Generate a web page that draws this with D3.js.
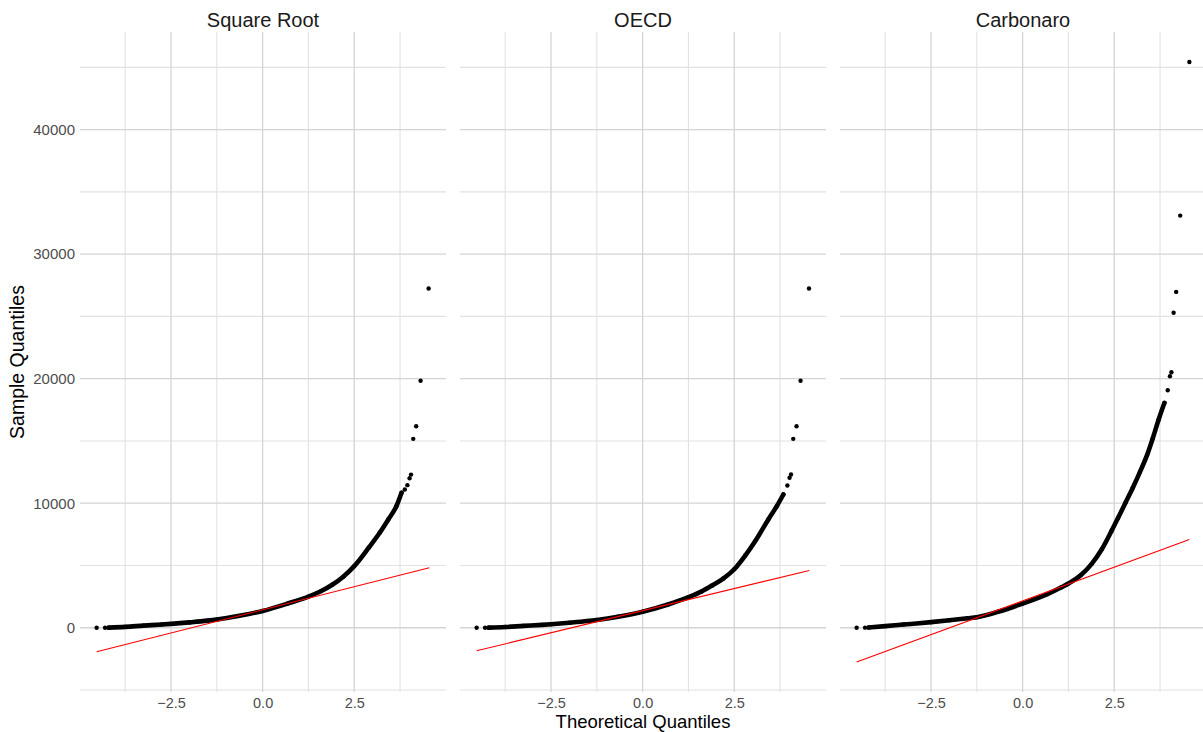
<!DOCTYPE html>
<html>
<head>
<meta charset="utf-8">
<script src="https://cdn.jsdelivr.net/npm/d3@7"></script>
<style>
  body { margin: 0; background: #ffffff; }
  svg { display: block; font-family: "Liberation Sans", Arial, sans-serif; }
</style>
</head>
<body>
<svg id="chart" width="1203" height="732"></svg>
<script>
// Facet titles
const panelNames = ["Square Root", "OECD", "Carbonaro"];

// Axis breaks
const xTickValues = [-2.5, 0, 2.5];
const xMinorValues = [-3.75, -1.25, 1.25, 3.75];
const yTickValues = [0, 10000, 20000, 30000, 40000];
const yMinorValues = [-5000, 5000, 15000, 25000, 35000, 45000];

// Sample quantiles vs theoretical quantiles: dense body of each distribution
const sqrtBand = [
  [-4.20, 10], [-3.75, 70], [-3.25, 170], [-2.75, 260], [-2.5, 310], [-2.0, 430],
  [-1.5, 570], [-1.25, 660], [-0.674, 935], [0, 1350], [0.674, 1935], [1.25, 2500],
  [1.6, 2950], [1.9, 3450], [2.2, 4100], [2.5, 4950], [2.9, 6450], [3.2, 7650],
  [3.43, 8700], [3.65, 9760], [3.79, 10840]
];
const oecdBand = [
  [-4.20, 10], [-3.75, 60], [-3.25, 150], [-2.75, 230], [-2.5, 280], [-2.0, 400],
  [-1.5, 540], [-1.25, 630], [-0.674, 890], [0, 1290], [0.674, 1850], [1.25, 2450],
  [1.6, 2900], [1.9, 3400], [2.2, 3950], [2.5, 4700], [2.8, 5800], [3.07, 6950],
  [3.43, 8690], [3.66, 9760], [3.84, 10700]
];
const carbBand = [
  [-4.20, 20], [-3.75, 130], [-3.25, 260], [-2.75, 380], [-2.5, 450], [-2.0, 600],
  [-1.5, 760], [-1.25, 850], [-0.674, 1280], [0, 1940], [0.674, 2700], [1.06, 3250],
  [1.25, 3550], [1.6, 4250], [1.89, 5150], [2.16, 6300], [2.43, 7800], [2.6, 8800],
  [2.8, 10000], [3.0, 11200], [3.2, 12500], [3.4, 13900], [3.55, 15200],
  [3.71, 16700], [3.87, 18060]
];

// Isolated extreme observations
const sqrtTail = [
  [-4.53, 0], [-4.30, 5], [3.88, 11100], [3.95, 11450], [4.01, 12000], [4.05, 12300],
  [4.11, 15170], [4.19, 16180], [4.31, 19830], [4.53, 27240]
];
const oecdTail = [
  [-4.53, 0], [-4.30, 5], [3.95, 11420], [4.01, 12040], [4.05, 12305],
  [4.11, 15170], [4.20, 16180], [4.31, 19830], [4.54, 27240]
];
const carbTail = [
  [-4.53, 0], [-4.30, 10], [3.96, 19070], [4.02, 20200], [4.06, 20520],
  [4.12, 25300], [4.19, 26970], [4.30, 33095], [4.55, 45430]
];

// Reference lines through the quartiles
const sqrtLine = [[-4.53, -1926], [4.55, 4816]];
const oecdLine = [[-4.53, -1846], [4.55, 4599]];
const carbLine = [[-4.53, -2750], [4.55, 7088]];

const panels = [
  { name: panelNames[0], band: sqrtBand, tail: sqrtTail, line: sqrtLine },
  { name: panelNames[1], band: oecdBand, tail: oecdTail, line: oecdLine },
  { name: panelNames[2], band: carbBand, tail: carbTail, line: carbLine }
];

// Layout
const marginLeft = 80, marginTop = 32, panelW = 366, panelH = 660, gap = 14;
const fontFamily = "'Liberation Sans', Arial, sans-serif";

// Shared scales, expanded 5% on each side of the data range
function expand(ext) {
  const r = ext[1] - ext[0];
  return [ext[0] - 0.05 * r, ext[1] + 0.05 * r];
}
const allPts = panels.flatMap(p => [...p.band, ...p.tail, ...p.line]);
const x = d3.scaleLinear()
  .domain(expand(d3.extent(allPts, d => d[0])))
  .range([0, panelW]);
const y = d3.scaleLinear()
  .domain(expand(d3.extent(allPts, d => d[1])))
  .range([panelH, 0]);

const svg = d3.select("#chart");
svg.append("rect").attr("width", 1203).attr("height", 732).attr("fill", "#ffffff");

const gridMajor = "#d4d4d4", gridMinor = "#e2e2e2";

panels.forEach((p, i) => {
  const g = svg.append("g")
    .attr("transform", `translate(${marginLeft + i * (panelW + gap)},${marginTop})`);

  // minor grid
  g.append("g").selectAll("line").data(yMinorValues).join("line")
    .attr("x1", 0).attr("x2", panelW)
    .attr("y1", d => y(d)).attr("y2", d => y(d))
    .attr("stroke", gridMinor).attr("stroke-width", 1.1);
  g.append("g").selectAll("line").data(xMinorValues).join("line")
    .attr("y1", 0).attr("y2", panelH)
    .attr("x1", d => x(d)).attr("x2", d => x(d))
    .attr("stroke", gridMinor).attr("stroke-width", 1.1);
  // major grid
  g.append("g").selectAll("line").data(yTickValues).join("line")
    .attr("x1", 0).attr("x2", panelW)
    .attr("y1", d => y(d)).attr("y2", d => y(d))
    .attr("stroke", gridMajor).attr("stroke-width", 1.3);
  g.append("g").selectAll("line").data(xTickValues).join("line")
    .attr("y1", 0).attr("y2", panelH)
    .attr("x1", d => x(d)).attr("x2", d => x(d))
    .attr("stroke", gridMajor).attr("stroke-width", 1.3);

  // points: dense body drawn as a continuous run of dots
  g.append("path")
    .datum(p.band)
    .attr("d", d3.line().x(d => x(d[0])).y(d => y(d[1])).curve(d3.curveMonotoneX))
    .attr("fill", "none").attr("stroke", "#000")
    .attr("stroke-width", 4.6).attr("stroke-linecap", "round").attr("stroke-linejoin", "round");
  g.append("g").selectAll("circle").data(p.band.concat(p.tail)).join("circle")
    .attr("cx", d => x(d[0])).attr("cy", d => y(d[1])).attr("r", 2.2)
    .attr("fill", "#000");

  // reference line
  g.append("path")
    .datum(p.line)
    .attr("d", d3.line().x(d => x(d[0])).y(d => y(d[1])))
    .attr("fill", "none").attr("stroke", "#ff0000").attr("stroke-width", 1.1);

  // x axis
  const xa = g.append("g").attr("transform", `translate(0,${panelH})`)
    .call(d3.axisBottom(x).tickValues(xTickValues).tickSize(0).tickPadding(6)
      .tickFormat(d3.format(".1f")));
  xa.select(".domain").remove();
  xa.selectAll("text").attr("fill", "#4d4d4d").style("font-size", "14.5px")
    .style("font-family", fontFamily);

  // y axis on the first panel only
  if (i === 0) {
    const ya = g.append("g")
      .call(d3.axisLeft(y).tickValues(yTickValues).tickSize(0).tickPadding(5)
        .tickFormat(d => String(d)));
    ya.select(".domain").remove();
    ya.selectAll("text").attr("fill", "#4d4d4d").style("font-size", "15px")
      .style("font-family", fontFamily);
  }

  // facet title
  g.append("text")
    .attr("x", panelW / 2).attr("y", -5)
    .attr("text-anchor", "middle")
    .attr("fill", "#1a1a1a").style("font-size", "20px")
    .text(p.name);
});

// axis titles
svg.append("text")
  .attr("x", marginLeft + (3 * panelW + 2 * gap) / 2).attr("y", 728)
  .attr("text-anchor", "middle").attr("fill", "#000").style("font-size", "18.5px")
  .text("Theoretical Quantiles");
svg.append("text")
  .attr("transform", `translate(24,${marginTop + panelH / 2}) rotate(-90)`)
  .attr("text-anchor", "middle").attr("fill", "#000").style("font-size", "19.5px")
  .text("Sample Quantiles");
</script>
</body>
</html>
